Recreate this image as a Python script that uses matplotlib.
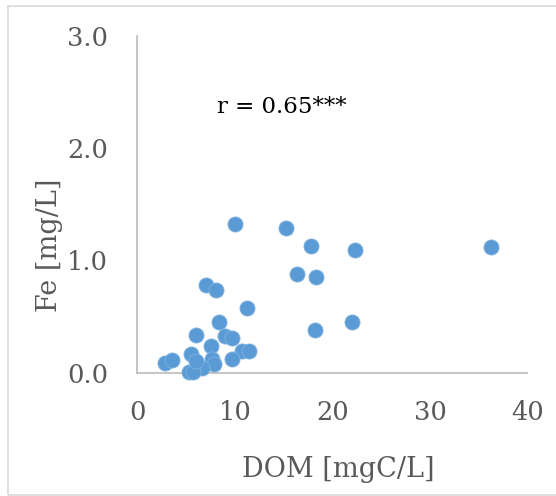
import matplotlib
matplotlib.use("Agg")
import matplotlib.pyplot as plt
from matplotlib.patches import Rectangle

# Dissolved organic matter (mgC/L) vs dissolved iron (mg/L)
dom = [10.0, 7.0, 8.1, 11.2, 8.4, 6.0, 9.0, 9.7, 7.5, 5.5,
       10.7, 11.4, 9.7, 7.6, 7.8, 6.6, 5.3, 5.7, 6.0, 2.8, 3.5,
       15.2, 17.8, 22.3, 16.4, 18.3, 36.3, 18.2, 22.0]
fe = [1.32, 0.78, 0.74, 0.58, 0.45, 0.34, 0.33, 0.31, 0.24, 0.17,
      0.19, 0.19, 0.12, 0.12, 0.08, 0.04, 0.01, 0.01, 0.10, 0.09, 0.11,
      1.29, 1.13, 1.09, 0.88, 0.85, 1.12, 0.38, 0.45]

x_ticks = [0, 10, 20, 30, 40]
y_ticks = [0.0, 1.0, 2.0, 3.0]
x_label = "DOM [mgC/L]"
y_label = "Fe [mg/L]"
annotation = "r = 0.65***"

plt.rcParams["font.family"] = ["DejaVu Serif"]
grey_text = "#595959"
axis_grey = "#BFBFBF"

fig = plt.figure(figsize=(5.56, 4.96), dpi=100)
ax = fig.add_axes([0.2473, 0.2486, 0.9487 - 0.2473, 0.9278 - 0.2486])

ax.scatter(dom, fe, s=118, color="#5B9BD5", edgecolors="#7FB2E0",
           linewidths=0.6, zorder=3, clip_on=False)

ax.set_xlim(0, 40)
ax.set_ylim(0, 3.0)
ax.set_xticks(x_ticks)
ax.set_yticks(y_ticks)
ax.set_xticklabels([f"{v:d}" for v in x_ticks])
ax.set_yticklabels([f"{v:.1f}" for v in y_ticks])
ax.tick_params(axis="both", length=0, labelsize=18.5, colors=grey_text)
ax.tick_params(axis="y", pad=21)
ax.tick_params(axis="x", pad=20)

for side in ("top", "right"):
    ax.spines[side].set_visible(False)
for side in ("left", "bottom"):
    ax.spines[side].set_color(axis_grey)
    ax.spines[side].set_linewidth(1.3)

ax.set_xlabel(x_label, fontsize=19.5, color=grey_text)
ax.set_ylabel(y_label, fontsize=19.5, color=grey_text)
ax.xaxis.set_label_coords((338 - 137.5) / 390, -(456 - 372.7) / 337)
ax.yaxis.set_label_coords(-(137.5 - 63) / 390, (372.7 - 245) / 337)

ax.text(8.15, 2.37, annotation, fontsize=16.5, color="black",
        ha="left", va="center")

# Chart-area frame
fig.patches.append(Rectangle((8 / 556, 1 - 495 / 496), 1.0, (495 - 6) / 496,
                             transform=fig.transFigure, fill=False,
                             edgecolor="#D9D9D9", linewidth=1.2))

fig.savefig("out.png", dpi=100)
